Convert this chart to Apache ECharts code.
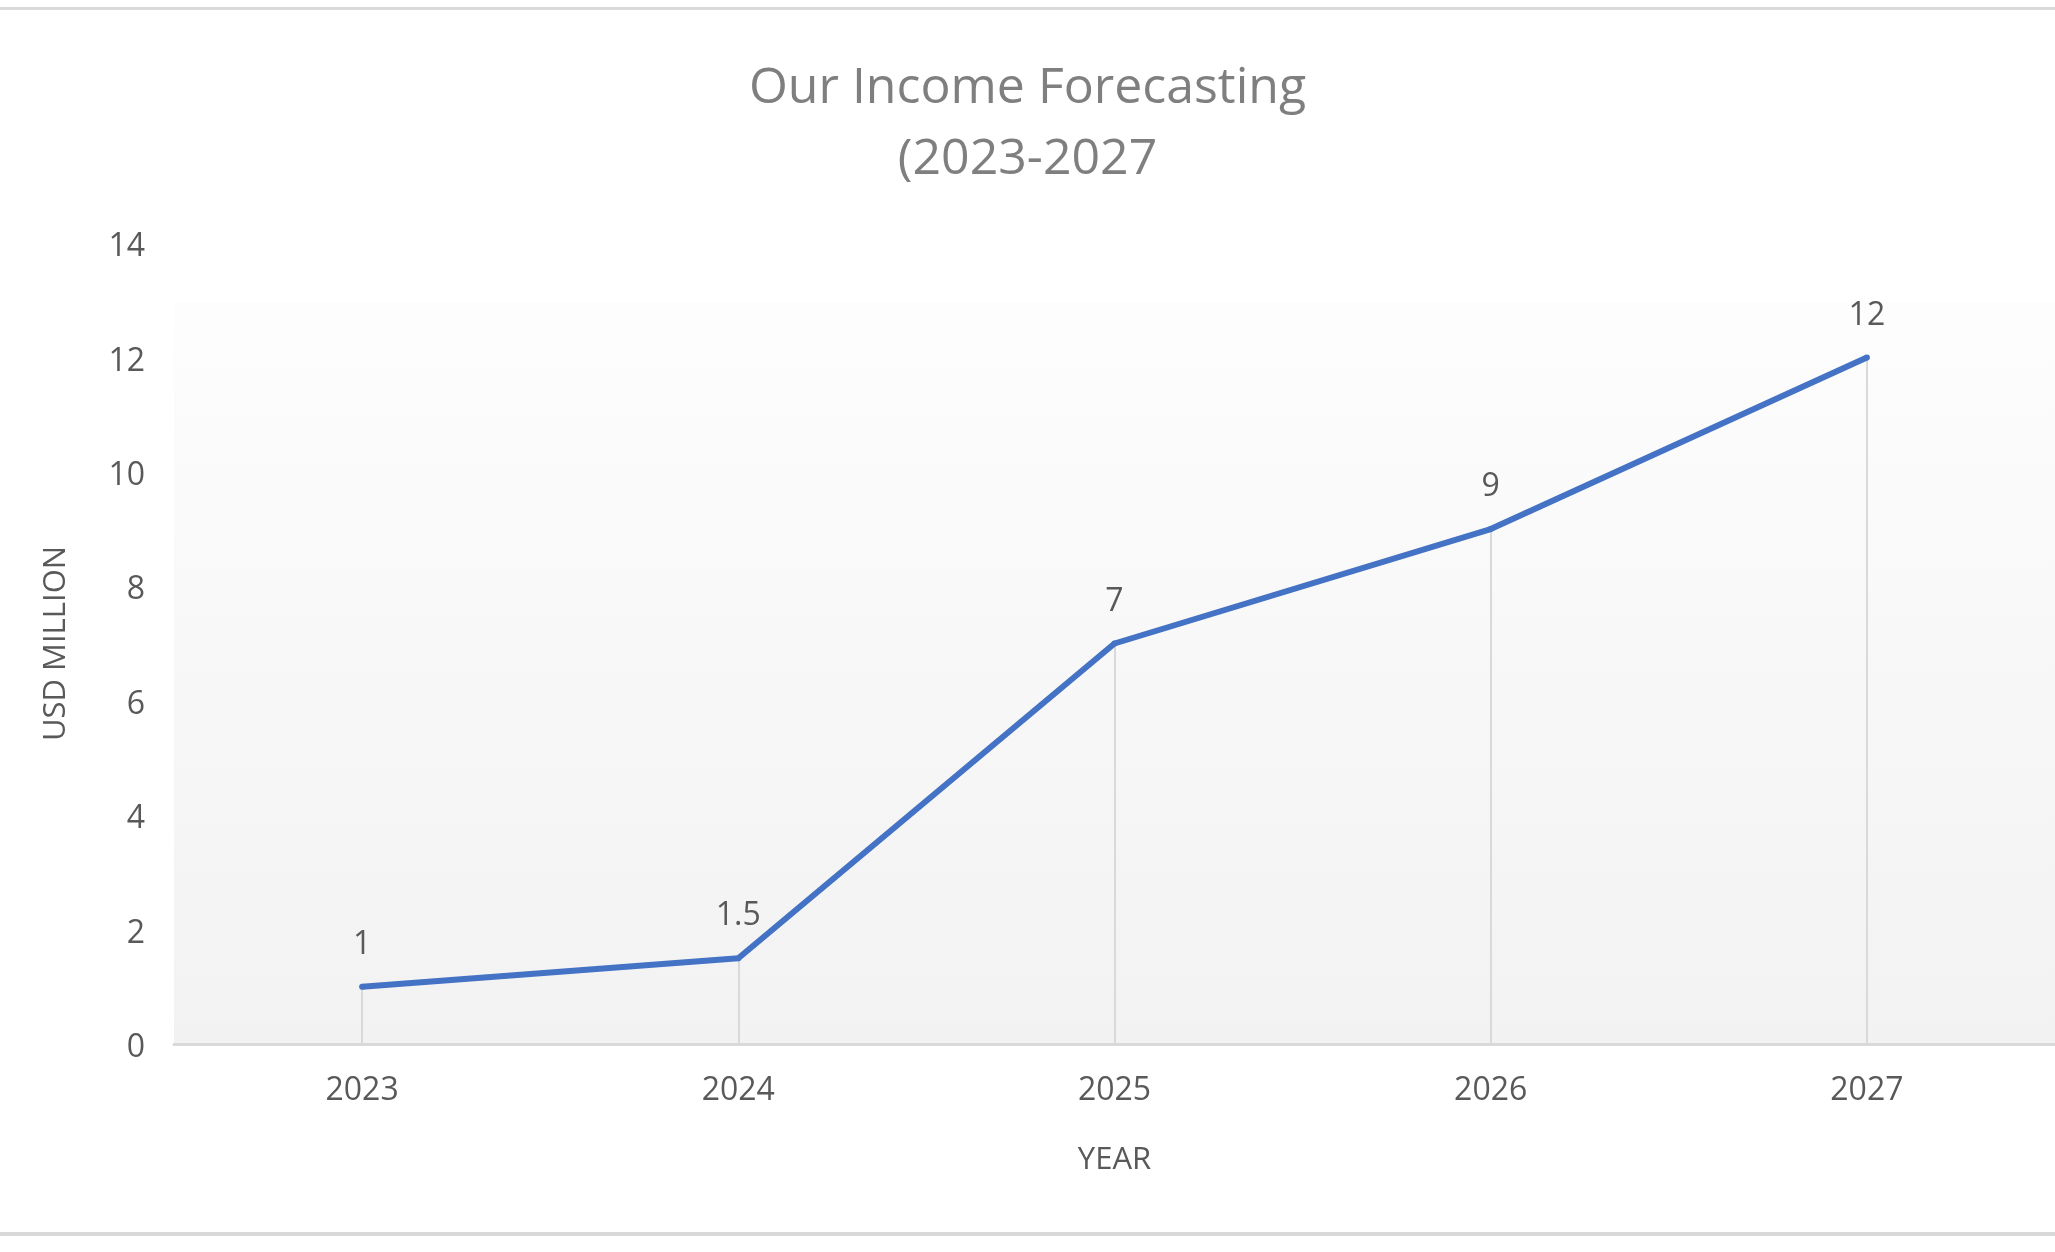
<!DOCTYPE html>
<html>
<head>
<meta charset="utf-8">
<title>Our Income Forecasting</title>
<script src="https://cdn.jsdelivr.net/npm/echarts@6/dist/echarts.min.js"></script>
<style>
  html, body { margin: 0; padding: 0; background: #ffffff; }
  #chart { width: 2055px; height: 1252px; }
</style>
</head>
<body>
<div id="chart"></div>
<script>
// -- Data --
const years = ['2023', '2024', '2025', '2026', '2027'];
const income = [1, 1.5, 7, 9, 12];
const yTicks = { min: 0, max: 14, interval: 2 };

// -- Styling --
const FONT = '"Open Sans", "Noto Sans", sans-serif';
const COLORS = {
  line: '#4472c4',
  text: '#595959',
  title: '#7f7f7f',
  rule: '#d9d9d9'
};

// Drop lines: from each point down to the x axis
const dropLines = income.map((v, i) => [
  { coord: [i, v] },
  { coord: [i, 0] }
]);

const chart = echarts.init(document.getElementById('chart'), null, { renderer: 'canvas' });

chart.setOption({
  backgroundColor: '#ffffff',
  animation: false,
  title: {
    text: 'Our Income Forecasting\n(2023-2027',
    left: 'center',
    top: 48,
    textStyle: {
      fontFamily: FONT,
      fontSize: 50,
      fontWeight: 'normal',
      color: COLORS.title,
      lineHeight: 71
    }
  },
  grid: {
    left: 174,
    right: -2,
    top: 243,
    bottom: 208,
    show: true,
    borderWidth: 0,
    backgroundColor: new echarts.graphic.LinearGradient(0, 0, 0, 1, [
      { offset: 0, color: '#ffffff' },
      { offset: 0.073, color: '#ffffff' },
      { offset: 0.074, color: '#fdfdfd' },
      { offset: 1, color: '#f2f2f2' }
    ])
  },
  xAxis: {
    type: 'category',
    data: years,
    boundaryGap: true,
    name: 'YEAR',
    nameLocation: 'middle',
    nameGap: 101,
    nameTextStyle: { fontFamily: FONT, fontSize: 31, color: COLORS.text },
    axisLine: { show: true, lineStyle: { color: COLORS.rule, width: 3 } },
    axisTick: { show: false },
    splitLine: { show: false },
    axisLabel: { fontFamily: FONT, fontSize: 32, color: COLORS.text, margin: 31 }
  },
  yAxis: {
    type: 'value',
    min: yTicks.min,
    max: yTicks.max,
    interval: yTicks.interval,
    name: 'USD MILLION',
    nameLocation: 'middle',
    nameGap: 102,
    nameTextStyle: { fontFamily: FONT, fontSize: 31, color: COLORS.text },
    axisLine: { show: false },
    axisTick: { show: false },
    splitLine: { show: false },
    axisLabel: {
      fontFamily: FONT, fontSize: 32, color: COLORS.text, margin: 29,
      verticalAlign: 'top',
      lineHeight: 8
    }
  },
  series: [
    {
      type: 'line',
      data: income,
      symbol: 'circle',
      symbolSize: 6,
      z: 3,
      lineStyle: { color: COLORS.line, width: 6 },
      itemStyle: { color: COLORS.line },
      label: {
        show: true,
        position: 'top',
        distance: 23,
        fontFamily: FONT,
        fontSize: 32,
        color: COLORS.text
      },
      markLine: {
        silent: true,
        symbol: 'none',
        z: 1,
        label: { show: false },
        lineStyle: { color: COLORS.rule, width: 2, type: 'solid' },
        data: dropLines
      }
    }
  ],
  // chart-area border (top and bottom rules)
  graphic: [
    { type: 'rect', shape: { x: 0, y: 7, width: 2055, height: 3 }, style: { fill: COLORS.rule }, silent: true },
    { type: 'rect', shape: { x: 0, y: 1232, width: 2055, height: 4 }, style: { fill: COLORS.rule }, silent: true }
  ]
});

window.addEventListener('resize', () => chart.resize());
</script>
</body>
</html>
